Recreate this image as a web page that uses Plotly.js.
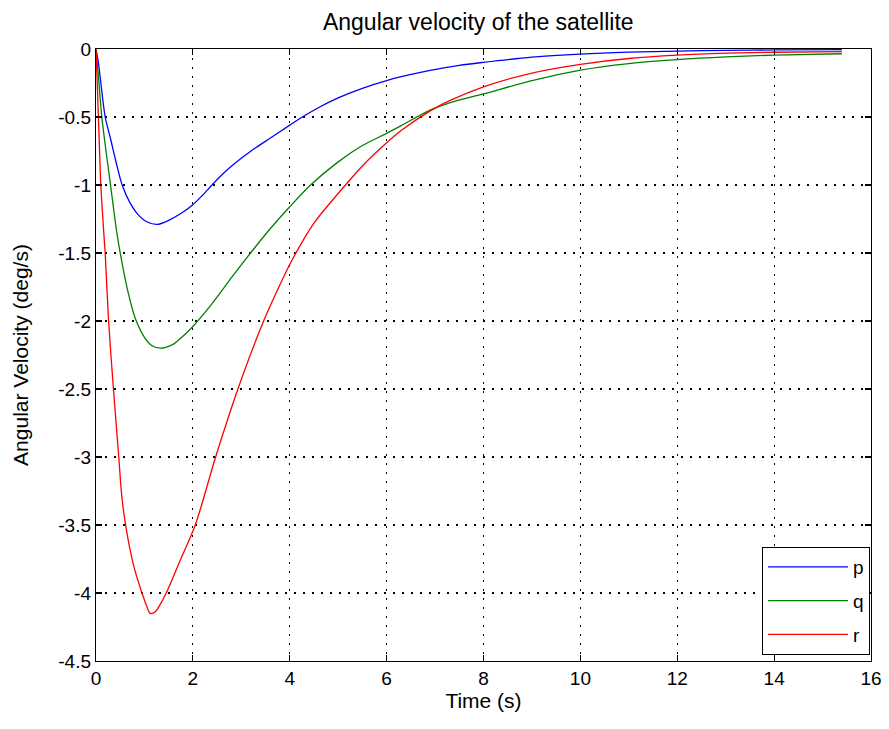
<!DOCTYPE html>
<html>
<head>
<meta charset="utf-8">
<script src="https://cdn.plot.ly/plotly-3.0.1.min.js"></script>
<style>html,body{margin:0;padding:0;background:#fff;}#chart{width:889px;height:729px;}</style>
</head>
<body>
<div id="chart"></div>
<script>
// Time samples (s) and angular velocity values (deg/s)
var tP = [0, 0.05, 0.1, 0.19, 0.3, 0.42, 0.54, 0.7, 0.85, 1.05, 1.26, 1.5, 1.75, 2, 2.2, 2.4, 2.6, 2.8, 3.2, 3.6, 4, 4.2, 4.6, 5, 5.5, 6, 6.3, 6.9, 7.5, 8, 9, 10, 11, 12, 13, 14, 15.4];
var pVals = [0, -0.1, -0.25, -0.5, -0.66, -0.84, -1.0, -1.13, -1.21, -1.27, -1.29, -1.26, -1.21, -1.145, -1.075, -0.998, -0.925, -0.86, -0.75, -0.655, -0.56, -0.513, -0.43, -0.36, -0.29, -0.233, -0.204, -0.157, -0.12, -0.098, -0.06, -0.037, -0.023, -0.015, -0.01, -0.007, -0.005];

var tQ = [0, 0.05, 0.12, 0.3, 0.43, 0.5, 0.65, 0.81, 1.0, 1.15, 1.33, 1.6, 1.8, 2, 2.4, 2.8, 3.19, 3.6, 4, 4.43, 5, 5.5, 6, 6.3, 6.9, 7.3, 8, 9, 10, 11, 12, 13, 14, 15.4];
var qVals = [0, -0.2, -0.5, -1.0, -1.35, -1.5, -1.77, -1.98, -2.12, -2.18, -2.2, -2.17, -2.11, -2.04, -1.87, -1.68, -1.5, -1.32, -1.16, -1.0, -0.83, -0.71, -0.62, -0.563, -0.45, -0.396, -0.33, -0.233, -0.155, -0.107, -0.078, -0.058, -0.045, -0.035];

var tR = [0, 0.05, 0.1, 0.17, 0.19, 0.26, 0.36, 0.47, 0.53, 0.59, 0.67, 0.8, 0.95, 1.05, 1.12, 1.22, 1.3, 1.45, 1.75, 2.05, 2.47, 2.95, 3.46, 3.75, 4.05, 4.5, 5.15, 5.5, 6, 6.3, 6.9, 7.3, 8, 9, 10, 11, 12, 13, 14, 15.4];
var rVals = [0, -0.5, -1.0, -1.4, -1.5, -2.0, -2.5, -3.0, -3.28, -3.45, -3.62, -3.83, -4.0, -4.1, -4.15, -4.14, -4.1, -4.0, -3.75, -3.5, -3.0, -2.48, -2.0, -1.77, -1.55, -1.28, -1.0, -0.86, -0.69, -0.6, -0.455, -0.38, -0.278, -0.177, -0.113, -0.07, -0.045, -0.031, -0.024, -0.02];

var seriesNames = ['p', 'q', 'r'];
var xTickVals = [0, 2, 4, 6, 8, 10, 12, 14, 16];
var xTickText = ['0', '2', '4', '6', '8', '10', '12', '14', '16'];
var yTickVals = [0, -0.5, -1, -1.5, -2, -2.5, -3, -3.5, -4, -4.5];
var yTickText = ['0', '-0.5', '-1', '-1.5', '-2', '-2.5', '-3', '-3.5', '-4', '-4.5'];

var FONT = 'Liberation Sans, Arial, sans-serif';

function mk(x, y, name, color) {
  return {x: x, y: y, name: name, legendgroup: name, type: 'scatter', mode: 'lines',
          line: {color: color, width: 1.3, shape: 'spline', smoothing: 0.8}};
}
var traces = [
  mk(tP, pVals, seriesNames[0], 'rgb(0,0,255)'),
  mk(tQ, qVals, seriesNames[1], 'rgb(0,128,0)'),
  mk(tR, rVals, seriesNames[2], 'rgb(255,0,0)')
];

var axisCommon = {
  showline: true, linecolor: '#000', linewidth: 1.2, mirror: 'ticks',
  ticks: 'inside', ticklen: 6, tickcolor: '#000', tickwidth: 1.2,
  showgrid: true, gridcolor: '#000', griddash: '1.5px,7.5px', gridwidth: 1.2,
  zeroline: false, tickfont: {family: FONT, size: 19, color: '#000'}
};

var layout = {
  width: 889, height: 729,
  paper_bgcolor: '#fff', plot_bgcolor: '#fff',
  margin: {l: 96, r: 18, t: 49, b: 68},
  title: {text: 'Angular velocity of the satellite', font: {family: FONT, size: 23, color: '#000'}, x: 0.538, xanchor: 'center', y: 0.97, yanchor: 'middle'},
  xaxis: Object.assign({}, axisCommon, {
    range: [0, 16], tickvals: xTickVals, ticktext: xTickText,
    title: {text: 'Time (s)', font: {family: FONT, size: 21, color: '#000'}, standoff: 4}
  }),
  yaxis: Object.assign({}, axisCommon, {
    range: [-4.5, 0], tickvals: yTickVals, ticktext: yTickText,
    title: {text: 'Angular Velocity (deg/s)', font: {family: FONT, size: 21, color: '#000'}, standoff: 24}
  }),
  showlegend: true,
  legend: {
    x: 0.9985, xanchor: 'right', y: 0.01, yanchor: 'bottom',
    bgcolor: '#fff', bordercolor: '#000', borderwidth: 1.2,
    font: {family: FONT, size: 19, color: '#000'},
    tracegroupgap: 6, itemwidth: 80
  }
};

Plotly.newPlot('chart', traces, layout, {displayModeBar: false, staticPlot: true});
</script>
</body>
</html>
